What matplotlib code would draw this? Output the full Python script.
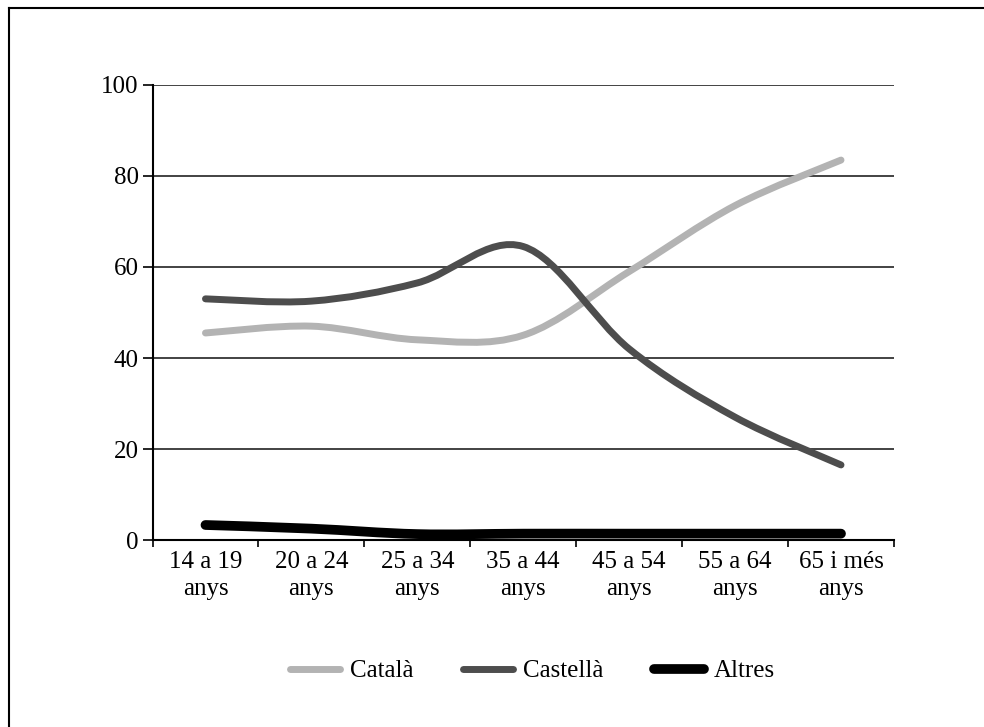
import matplotlib
matplotlib.use("Agg")
import matplotlib.pyplot as plt
from matplotlib.path import Path
from matplotlib.patches import PathPatch
from matplotlib.lines import Line2D

plt.rcParams["font.family"] = ["Liberation Serif", "DejaVu Serif"]

grups = ["14 a 19\nanys", "20 a 24\nanys", "25 a 34\nanys", "35 a 44\nanys",
         "45 a 54\nanys", "55 a 64\nanys", "65 i més\nanys"]
catala = [45.5, 47.0, 44.0, 45.0, 59.0, 73.5, 83.5]
castella = [53.0, 52.5, 56.5, 64.5, 42.0, 27.0, 16.5]
altres = [3.3, 2.5, 1.3, 1.4, 1.4, 1.4, 1.4]

series = [("Català", catala, "#b3b3b3", 5.0),
          ("Castellà", castella, "#4d4d4d", 5.0),
          ("Altres", altres, "#000000", 7.0)]


def smooth_path(xs, ys):
    # cubic bezier through the points, spreadsheet-style smoothing
    n = len(xs)
    verts = [(xs[0], ys[0])]
    codes = [Path.MOVETO]
    for i in range(n - 1):
        x0, y0 = xs[max(i - 1, 0)], ys[max(i - 1, 0)]
        x1, y1 = xs[i], ys[i]
        x2, y2 = xs[i + 1], ys[i + 1]
        x3, y3 = xs[min(i + 2, n - 1)], ys[min(i + 2, n - 1)]
        c1 = (x1 + (x2 - x0) / 6, y1 + (y2 - y0) / 6)
        c2 = (x2 - (x3 - x1) / 6, y2 - (y3 - y1) / 6)
        verts += [c1, c2, (x2, y2)]
        codes += [Path.CURVE4] * 3
    return Path(verts, codes)


fig = plt.figure(figsize=(9.84, 7.27), dpi=100)
ax = fig.add_axes([0.155, 0.2572, 0.7535, 0.6259])

x = list(range(len(grups)))
for nom, vals, col, lw in series:
    ax.add_patch(PathPatch(smooth_path(x, vals), facecolor="none", edgecolor=col,
                           lw=lw, capstyle="round", joinstyle="round", zorder=3))

ax.set_xlim(-0.5, len(grups) - 0.5)
ax.set_ylim(0, 100)
ax.set_yticks(range(0, 101, 20))
for v in range(20, 101, 20):
    ax.axhline(v, color="#222222", lw=1.2, zorder=1)

ax.set_xticks([i + 0.5 for i in range(-1, len(grups))])
ax.set_xticklabels([])
ax.set_xticks(x, minor=True)
ax.set_xticklabels(grups, minor=True, fontsize=18, linespacing=1.3)
ax.tick_params(axis="x", which="major", length=5, width=1.2, direction="out")
ax.tick_params(axis="x", which="minor", length=0, pad=8)
ax.tick_params(axis="y", length=7, width=1.2, direction="out", labelsize=18, pad=3)

for s in ["top", "right"]:
    ax.spines[s].set_visible(False)
for s in ["left", "bottom"]:
    ax.spines[s].set_linewidth(1.5)

handles = [Line2D([], [], color=col, lw=lw, solid_capstyle="round") for _, _, col, lw in series]
fig.legend(handles, [s[0] for s in series], loc="center", bbox_to_anchor=(0.541, 0.077),
           ncol=3, frameon=False, fontsize=18, handlelength=2.0, handletextpad=0.4,
           columnspacing=2.0)

# page frame
fig.add_artist(Line2D([9 / 984, 1], [1 - 8 / 727, 1 - 8 / 727], color="black", lw=1.5,
                      transform=fig.transFigure))
fig.add_artist(Line2D([9 / 984, 9 / 984], [0, 1 - 8 / 727], color="black", lw=1.5,
                      transform=fig.transFigure))

fig.savefig("out.png", dpi=100)
